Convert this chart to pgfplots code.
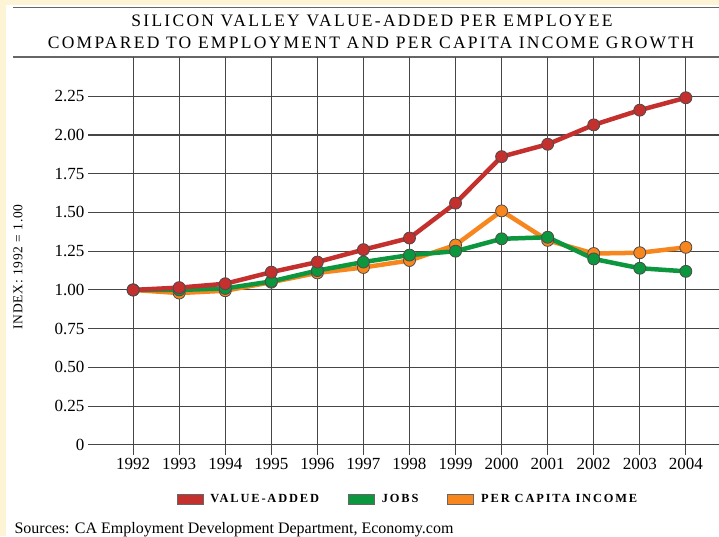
\documentclass[border=0pt]{standalone}
\usepackage{pgfplots}
\pgfplotsset{compat=1.18}
\usepackage{fontspec}
\setmainfont{Liberation Serif}
\newfontfamily\titlefont[LetterSpace=13]{Liberation Serif}
\newfontfamily\legfont[LetterSpace=15]{Liberation Serif}
\newfontfamily\labfont[LetterSpace=6]{Liberation Serif}

\definecolor{cream}{RGB}{253,244,214}
\definecolor{cRed}{RGB}{196,48,46}
\definecolor{cGreen}{RGB}{12,150,62}
\definecolor{cOrange}{RGB}{248,134,30}
\definecolor{gridc}{RGB}{70,70,70}

\begin{document}
\begin{tikzpicture}[x=1pt,y=1pt]
  \useasboundingbox (0,0) rectangle (719,-536);
  \fill[cream] (0,0) rectangle (719,-536);
  \fill[white] (6,-5) rectangle (719,-536);
  \draw[gray!80!black, line width=1.3pt] (13,-7.5) -- (719,-7.5);
  \draw[gray!80!black, line width=1.3pt] (13,-57) -- (719,-57);
  \node[font=\titlefont\fontsize{17.5}{19}\selectfont] at (372,-21) {SILICON VALLEY VALUE-ADDED PER EMPLOYEE};
  \node[font=\titlefont\fontsize{17.5}{19}\selectfont] at (371,-43) {COMPARED TO EMPLOYMENT AND PER CAPITA INCOME GROWTH};
  \node[rotate=90, font=\labfont\fontsize{13.5}{15}\selectfont] at (18,-267) {INDEX: 1992 = 1.00};
  \node[anchor=base west, font=\fontsize{16}{18}\selectfont] at (11,-533) {Sources: CA Employment Development Department, Economy.com};

  \begin{axis}[
    at={(88pt,-455pt)}, anchor=south west,
    scale only axis, width=631pt, height=398pt,
    xmin=1991.02, xmax=2004.72, ymin=-0.065, ymax=2.503,
    xtick={1992,1993,...,2004},
    xticklabels={1992,1993,1994,1995,1996,1997,1998,1999,2000,2001,2002,2003,2004},
    ytick={0,0.25,0.5,0.75,1,1.25,1.5,1.75,2,2.25},
    yticklabels={0,0.25,0.50,0.75,1.00,1.25,1.50,1.75,2.00,2.25},
    ticklabel style={font=\fontsize{17}{19}\selectfont},
    /pgf/number format/assume math mode=true,
    axis line style={draw=none},
    major tick length=0pt,
    grid=major,
    grid style={gridc, line width=1.1pt},
    clip=false,
    legend style={draw=none, fill=none, at={(0.507,-0.1106)}, anchor=center,
      legend columns=3, font=\legfont\bfseries\fontsize{12.4}{14}\selectfont,
      /tikz/every odd column/.append style={column sep=5pt},
      /tikz/every even column/.append style={column sep=27pt}},
    every axis plot/.append style={line width=4.5pt, mark=*, mark size=6pt},
  ]
    \addplot[cOrange, mark options={fill=cOrange, draw=black!70, line width=0.8pt},
      forget plot] coordinates {
      (1992,1.00) (1993,0.98) (1994,0.995) (1995,1.05) (1996,1.11) (1997,1.145)
      (1998,1.19) (1999,1.29) (2000,1.51) (2001,1.32) (2002,1.235) (2003,1.24) (2004,1.275)};
    \addplot[cGreen, mark options={fill=cGreen, draw=black!70, line width=0.8pt},
      forget plot] coordinates {
      (1992,1.00) (1993,1.00) (1994,1.01) (1995,1.055) (1996,1.125) (1997,1.18)
      (1998,1.225) (1999,1.25) (2000,1.33) (2001,1.34) (2002,1.20) (2003,1.14) (2004,1.12)};
    \addplot[cRed, mark options={fill=cRed, draw=black!70, line width=0.8pt},
      forget plot] coordinates {
      (1992,1.00) (1993,1.015) (1994,1.04) (1995,1.115) (1996,1.18) (1997,1.26)
      (1998,1.335) (1999,1.56) (2000,1.86) (2001,1.94) (2002,2.065) (2003,2.16) (2004,2.24)};
    % legend entries
    \addlegendimage{legend image code/.code={\draw[draw=black!60, fill=cRed, line width=0.8pt] (0pt,-5pt) rectangle (26pt,5pt);}}
    \addlegendentry{VALUE-ADDED}
    \addlegendimage{legend image code/.code={\draw[draw=black!60, fill=cGreen, line width=0.8pt] (0pt,-5pt) rectangle (26pt,5pt);}}
    \addlegendentry{JOBS}
    \addlegendimage{legend image code/.code={\draw[draw=black!60, fill=cOrange, line width=0.8pt] (0pt,-5pt) rectangle (26pt,5pt);}}
    \addlegendentry{PER CAPITA INCOME}
  \end{axis}
\end{tikzpicture}
\end{document}
